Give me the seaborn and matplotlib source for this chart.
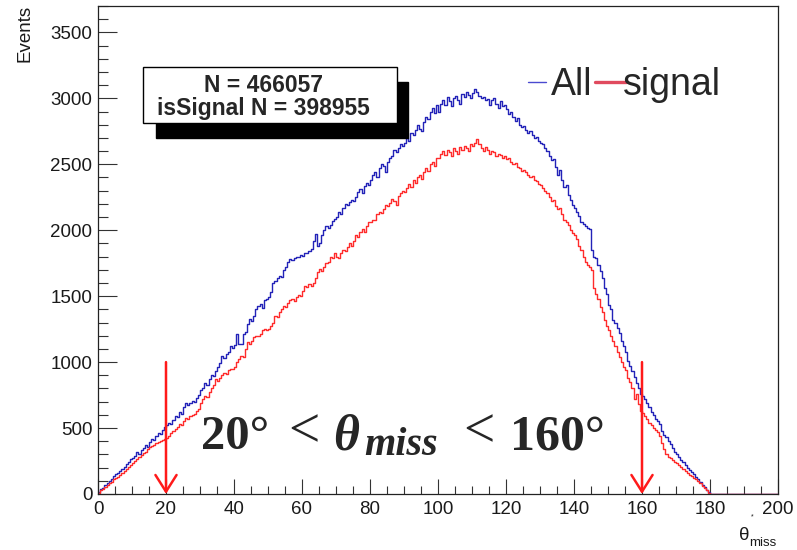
"""
theta*_miss distribution: all events vs. signal, with the 20-160 degree cut.
"""

import numpy as np
import pandas as pd
import matplotlib

matplotlib.use("Agg")
import matplotlib.pyplot as plt
from matplotlib.patches import Rectangle
import seaborn as sns

# bins of 0.625 deg between 0 and 200 (16 values per 10 deg)
all_counts = [
    12, 35, 48, 70, 84, 98, 112, 135, 150, 158, 176, 190, 205, 226, 240, 262,
    275, 290, 318, 302, 335, 350, 372, 360, 398, 415, 410, 442, 460, 455, 488, 505,
    520, 535, 528, 560, 590, 582, 620, 608, 660, 688, 672, 690, 702, 695, 725, 748,
    790, 805, 840, 830, 870, 905, 895, 930, 960, 990, 1045, 1030, 1060, 1080, 1120, 1110,
    1130, 1210, 1140, 1135, 1210, 1230, 1290, 1325, 1310, 1350, 1400, 1425, 1440, 1410, 1470, 1480,
    1490, 1530, 1600, 1615, 1640, 1650, 1645, 1700, 1720, 1760, 1780, 1775, 1790, 1800, 1795, 1810,
    1805, 1830, 1825, 1840, 1860, 1920, 1970, 1880, 1900, 1960, 2000, 2030, 2020, 2040, 2070, 2085,
    2100, 2140, 2125, 2170, 2200, 2190, 2215, 2230, 2225, 2250, 2290, 2310, 2280, 2335, 2360, 2345,
    2380, 2420, 2440, 2400, 2470, 2500, 2485, 2440, 2520, 2545, 2560, 2610, 2590, 2625, 2650, 2640,
    2660, 2700, 2680, 2740, 2720, 2760, 2800, 2770, 2750, 2820, 2860, 2840, 2900, 2930, 2890, 2950,
    2900, 2960, 2985, 2950, 3010, 2980, 2940, 3000, 3020, 2990, 2960, 3030, 3010, 3050, 3025, 3000,
    3040, 3070, 3045, 3020, 3000, 3010, 2990, 2995, 2950, 2990, 3000, 2960, 2930, 2980, 2945, 2950,
    2920, 2880, 2900, 2860, 2830, 2850, 2800, 2780, 2790, 2760, 2740, 2755, 2720, 2700, 2710, 2680,
    2660, 2650, 2620, 2600, 2560, 2530, 2540, 2480, 2420, 2460, 2380, 2330, 2340, 2270, 2230, 2190,
    2170, 2140, 2110, 2060, 2045, 2030, 2020, 2010, 1850, 1800, 1790, 1740, 1690, 1640, 1560, 1520,
    1430, 1400, 1320, 1300, 1260, 1220, 1160, 1120, 1080, 1010, 970, 930, 890, 840, 800, 760,
    745, 720, 690, 660, 620, 600, 570, 550, 530, 480, 450, 430, 400, 380, 345, 320,
    300, 280, 260, 240, 220, 200, 180, 165, 150, 130, 110, 90, 70, 50, 30, 12,
    0, 0, 0, 0, 0, 0, 0, 0, 0, 0, 0, 0, 0, 0, 0, 0,
    0, 0, 0, 0, 0, 0, 0, 0, 0, 0, 0, 0, 0, 0, 0, 0,
]

signal_counts = [
    10, 28, 40, 55, 70, 80, 92, 110, 120, 128, 145, 160, 172, 190, 205, 222,
    235, 250, 268, 280, 292, 310, 322, 340, 355, 362, 372, 385, 392, 400, 410, 418,
    425, 440, 460, 480, 495, 510, 530, 520, 555, 575, 565, 590, 600, 610, 630, 645,
    690, 720, 745, 735, 770, 800, 830, 871, 860, 880, 900, 920, 910, 940, 947, 950,
    960, 1000, 1020, 1048, 1040, 1100, 1150, 1140, 1160, 1190, 1200, 1195, 1210, 1240, 1250, 1245,
    1250, 1270, 1300, 1351, 1340, 1380, 1400, 1427, 1420, 1450, 1470, 1477, 1465, 1490, 1510, 1500,
    1540, 1578, 1570, 1590, 1578, 1600, 1640, 1680, 1705, 1690, 1720, 1750, 1760, 1800, 1790, 1830,
    1800, 1790, 1830, 1850, 1840, 1870, 1900, 1880, 1920, 1960, 1945, 1990, 2010, 1990, 2030, 2060,
    2060, 2080, 2075, 2120, 2140, 2130, 2160, 2190, 2180, 2210, 2240, 2220, 2190, 2260, 2280, 2300,
    2290, 2320, 2350, 2330, 2380, 2360, 2400, 2420, 2390, 2440, 2470, 2450, 2500, 2520, 2490, 2545,
    2550, 2580, 2600, 2570, 2610, 2590, 2560, 2620, 2600, 2580, 2630, 2610, 2640, 2620, 2600, 2650,
    2640, 2660, 2690, 2650, 2620, 2600, 2630, 2610, 2580, 2600, 2590, 2560, 2580, 2570, 2550, 2560,
    2540, 2550, 2520, 2500, 2510, 2480, 2470, 2450, 2460, 2440, 2420, 2400, 2410, 2380, 2370, 2350,
    2340, 2320, 2300, 2280, 2250, 2220, 2230, 2180, 2160, 2170, 2120, 2080, 2060, 2040, 2000, 1980,
    1960, 1930, 1880, 1850, 1800, 1760, 1740, 1720, 1700, 1560, 1520, 1480, 1420, 1380, 1320, 1270,
    1240, 1200, 1160, 1120, 1080, 1040, 1000, 960, 940, 880, 850, 800, 720, 760, 680, 630,
    615, 590, 565, 540, 520, 500, 485, 470, 440, 390, 340, 300, 280, 270, 255, 240,
    235, 220, 205, 190, 175, 160, 145, 135, 125, 110, 95, 80, 62, 45, 28, 10,
    0, 0, 0, 0, 0, 0, 0, 0, 0, 0, 0, 0, 0, 0, 0, 0,
    0, 0, 0, 0, 0, 0, 0, 0, 0, 0, 0, 0, 0, 0, 0, 0,
]

cut_low, cut_high = 20, 160
n_all_label = "N = 466057"
n_sig_label = "isSignal N = 398955"

W, H = 797, 550
BLUE = "#2323b8"
RED = "#ff2b2b"
BIN_W = 200 / len(all_counts)

sns.set_style("ticks")
plt.rcParams["font.family"] = ["Liberation Sans", "DejaVu Sans"]

centers = (np.arange(len(all_counts)) + 0.5) * BIN_W
df = pd.DataFrame({"theta": centers, "all": all_counts, "signal": signal_counts})

fig = plt.figure(figsize=(W / 100, H / 100), dpi=100)
ax = fig.add_axes([98 / W, 1 - 494 / H, 680 / W, 488 / H])

sns.histplot(data=df, x="theta", weights="all", binwidth=BIN_W, binrange=(0, 200),
             element="step", fill=False, color=BLUE, linewidth=1.0, ax=ax)
sns.histplot(data=df, x="theta", weights="signal", binwidth=BIN_W, binrange=(0, 200),
             element="step", fill=False, color=RED, linewidth=1.0, ax=ax)

ax.set_xlim(0, 200)
ax.set_ylim(0, 3697)
ax.set_xlabel("")
ax.set_ylabel("")
ax.set_xticks(np.arange(0, 201, 20))
ax.set_xticks(np.arange(0, 201, 5), minor=True)
ax.set_yticks(np.arange(0, 3501, 500))
ax.set_yticks(np.arange(0, 3701, 100), minor=True)
ax.tick_params(axis="both", which="both", direction="in", width=0.8,
               bottom=True, left=True, top=False, right=False,
               colors="#333333", labelcolor="#1a1a1a", labelsize=13.5)
ax.tick_params(axis="x", which="major", length=11, pad=5)
ax.tick_params(axis="x", which="minor", length=5.5)
ax.tick_params(axis="y", which="major", length=14, pad=4)
ax.tick_params(axis="y", which="minor", length=7.5)
for sp in ax.spines.values():
    sp.set_visible(True)
    sp.set_color("#222222")
    sp.set_linewidth(0.9)

# cut arrows
for cut in (cut_low, cut_high):
    ax.annotate("", xy=(cut, 0), xytext=(cut, 1000),
                arrowprops=dict(arrowstyle="->,head_length=0.6,head_width=0.38",
                                color="#ff1a1a", lw=1.8, shrinkA=0, shrinkB=0,
                                mutation_scale=20),
                annotation_clip=False, zorder=5)

# cut label, built piece by piece: (text, x px, baseline px, size, weight, style)
serif = "Liberation Serif"
cut_pieces = [
    ("20°", 201, 449, 35, "bold", "normal"),
    ("<", 288, 447, 40, "normal", "normal"),
    ("θ", 333, 449, 36, "bold", "italic"),
    ("miss", 364, 455, 29, "bold", "italic"),
    ("<", 463, 447, 40, "normal", "normal"),
    ("160°", 510, 449, 36, "bold", "normal"),
]
for txt, px, py, size, weight, style in cut_pieces:
    fig.text(px / W, 1 - py / H, txt, family=serif, fontsize=size,
             fontweight=weight, fontstyle=style, ha="left", va="baseline")

# stats box with shadow
fig.patches.append(Rectangle((156 / W, 1 - 138 / H), 252 / W, 56 / H,
                             transform=fig.transFigure, facecolor="black",
                             edgecolor="black", zorder=10))
fig.patches.append(Rectangle((143 / W, 1 - 123 / H), 254 / W, 56 / H,
                             transform=fig.transFigure, facecolor="white",
                             edgecolor="black", linewidth=1.0, zorder=11))
fig.text(264 / W, 1 - 92 / H, n_all_label, ha="center", va="baseline",
         fontsize=16.5, fontweight="bold", zorder=12)
fig.text(263 / W, 1 - 115 / H, n_sig_label, ha="center", va="baseline",
         fontsize=16.5, fontweight="bold", zorder=12)

# legend
fig.lines.append(plt.Line2D([528 / W, 546 / W], [1 - 82 / H, 1 - 82 / H],
                            transform=fig.transFigure, color="#4a4ad0", lw=1.0))
fig.text(551 / W, 1 - 95 / H, "All", ha="left", va="baseline", fontsize=27)
fig.lines.append(plt.Line2D([595 / W, 626 / W], [1 - 82 / H, 1 - 82 / H],
                            transform=fig.transFigure, color="#e04a5e", lw=2.4))
fig.text(623 / W, 1 - 95 / H, "signal", ha="left", va="baseline", fontsize=27)

# axis titles (ROOT style)
fig.text(25 / W, 1 - 5 / H, "Events", rotation=90, ha="center", va="top",
         fontsize=13.5, color="#1a1a1a")
fig.text(739 / W, 1 - 540 / H, "θ", ha="left", va="baseline", fontsize=13.5,
         color="#1a1a1a")
fig.text(749 / W, 1 - 546 / H, "miss", ha="left", va="baseline", fontsize=9.5,
         color="#1a1a1a")
fig.text(752 / W, 1 - 517 / H, "*", ha="center", va="center", fontsize=5,
         color="#1a1a1a")

fig.savefig("out.png", dpi=100)
print("Saved: out.png")
